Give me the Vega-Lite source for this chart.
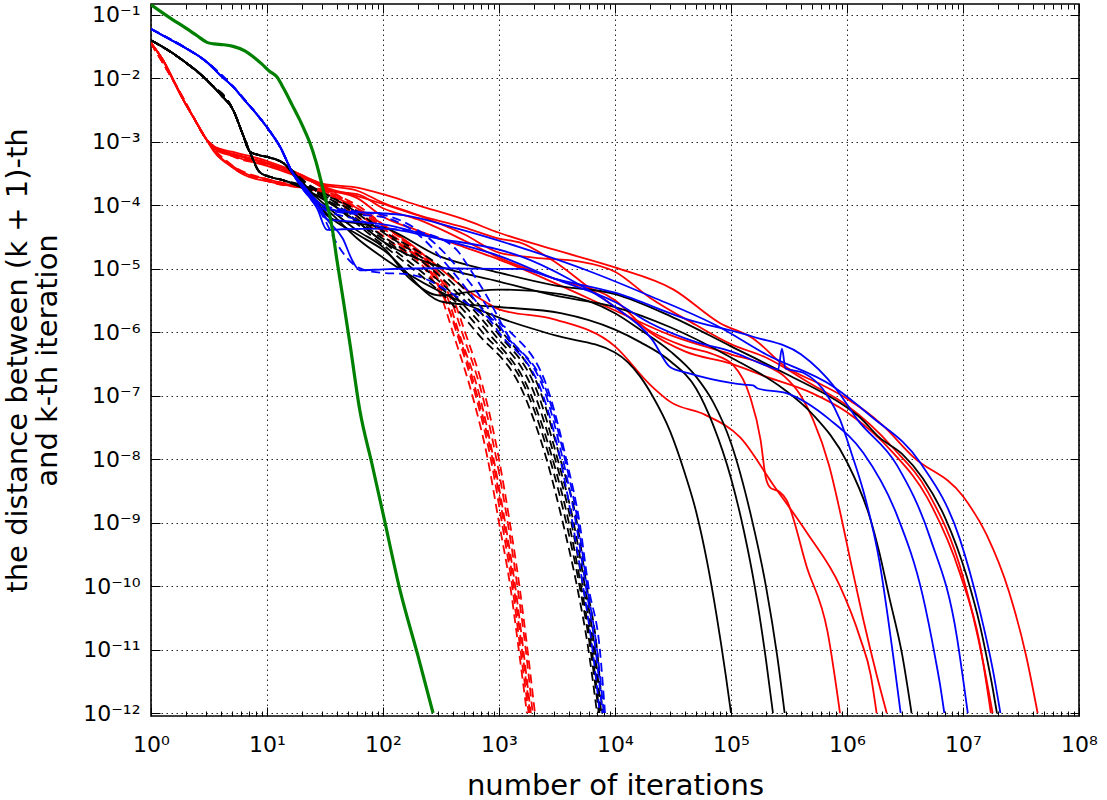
{
  "$schema": "https://vega.github.io/schema/vega-lite/v6.json",
  "width": 928,
  "height": 712,
  "autosize": {"type": "none"},
  "padding": {"left": 151, "top": 4, "right": 28, "bottom": 84},
  "background": "#ffffff",
  "config": {
    "view": {"stroke": "#000000", "strokeWidth": 1.6},
    "font": "DejaVu Sans",
    "axis": {"labelFont": "DejaVu Sans", "titleFont": "DejaVu Sans", "labelColor": "#000000", "titleColor": "#000000", "titleFontWeight": "normal", "tickColor": "#000000", "domain": false}
  },
  "datasets": {
    "green": [
      {"run":"g","x":1,"y":0.145},{"run":"g","x":1.5,"y":0.087},{"run":"g","x":2,"y":0.062},{"run":"g","x":2.5,"y":0.047},{"run":"g","x":3.04,"y":0.037},{"run":"g","x":3.5,"y":0.035},{"run":"g","x":4.2,"y":0.034},{"run":"g","x":5.1,"y":0.032},{"run":"g","x":6.5,"y":0.027},{"run":"g","x":7.6,"y":0.022},{"run":"g","x":9,"y":0.017},{"run":"g","x":10.5,"y":0.013},{"run":"g","x":12.2,"y":0.0105},{"run":"g","x":14,"y":0.0068},{"run":"g","x":16.5,"y":0.0038},{"run":"g","x":19.2,"y":0.0022},{"run":"g","x":21.5,"y":0.0014},{"run":"g","x":23.5,"y":0.00095},{"run":"g","x":26.5,"y":0.00048},{"run":"g","x":29.6,"y":0.00022},{"run":"g","x":32.5,"y":0.00011},{"run":"g","x":35,"y":6.6e-5},{"run":"g","x":37,"y":3.7e-5},{"run":"g","x":40,"y":1.4e-5},{"run":"g","x":45,"y":3.6e-6},{"run":"g","x":52,"y":6.4e-7},{"run":"g","x":63,"y":6e-8},{"run":"g","x":80,"y":8.7e-9},{"run":"g","x":100,"y":1.4e-9},{"run":"g","x":140,"y":8.7e-11},{"run":"g","x":200,"y":8e-12},{"run":"g","x":270,"y":1e-12}
    ],
    "redSolid": [
      {"run":"r1","x":1,"y":0.036},{"run":"r1","x":1.3,"y":0.018},{"run":"r1","x":1.6,"y":0.0085},{"run":"r1","x":1.9,"y":0.0046},{"run":"r1","x":2.4,"y":0.0022},{"run":"r1","x":3,"y":0.0011},{"run":"r1","x":3.5,"y":0.0008},{"run":"r1","x":5,"y":0.00063},{"run":"r1","x":7,"y":0.00054},{"run":"r1","x":10,"y":0.00045},{"run":"r1","x":14,"y":0.00036},{"run":"r1","x":20,"y":0.00028},
      {"run":"r1","x":30,"y":0.0002},{"run":"r1","x":60,"y":0.00014},{"run":"r1","x":100,"y":0.000105},{"run":"r1","x":200,"y":0.00007},{"run":"r1","x":500,"y":0.000045},{"run":"r1","x":1000,"y":0.00003},{"run":"r1","x":1500,"y":0.000026},{"run":"r1","x":3000,"y":0.000013},{"run":"r1","x":6000,"y":0.000005},{"run":"r1","x":11000,"y":0.0000022},{"run":"r1","x":21000,"y":0.000001},{"run":"r1","x":40000,"y":6e-7},{"run":"r1","x":70000,"y":4.5e-7},{"run":"r1","x":105000,"y":3e-7},{"run":"r1","x":145000,"y":1e-7},{"run":"r1","x":180000,"y":2e-8},{"run":"r1","x":200000,"y":5e-9},{"run":"r1","x":220000,"y":3.5e-9},{"run":"r1","x":260000,"y":3.1e-9},{"run":"r1","x":300000,"y":2.3e-9},{"run":"r1","x":450000,"y":2e-10},{"run":"r1","x":680000,"y":1.9e-11},{"run":"r1","x":870000,"y":1e-12},
      {"run":"r2","x":1,"y":0.036},{"run":"r2","x":1.3,"y":0.018},{"run":"r2","x":1.6,"y":0.0085},{"run":"r2","x":1.9,"y":0.0046},{"run":"r2","x":2.4,"y":0.0022},{"run":"r2","x":3,"y":0.0011},{"run":"r2","x":3.5,"y":0.0007},{"run":"r2","x":5,"y":0.0004},{"run":"r2","x":7,"y":0.00028},{"run":"r2","x":10,"y":0.00024},{"run":"r2","x":14,"y":0.00021},{"run":"r2","x":20,"y":0.00019},
      {"run":"r2","x":30,"y":0.00016},{"run":"r2","x":60,"y":0.00009},{"run":"r2","x":100,"y":0.00005},{"run":"r2","x":170,"y":0.000025},{"run":"r2","x":270,"y":0.0000126},{"run":"r2","x":500,"y":0.000005},{"run":"r2","x":790,"y":0.0000029},{"run":"r2","x":1000,"y":0.0000023},{"run":"r2","x":3000,"y":0.0000016},{"run":"r2","x":10000,"y":6e-7},{"run":"r2","x":20000,"y":1.5e-7},{"run":"r2","x":30000,"y":8e-8},{"run":"r2","x":60000,"y":5e-8},{"run":"r2","x":120000,"y":2.2e-8},{"run":"r2","x":230000,"y":4e-9},{"run":"r2","x":450000,"y":7e-10},{"run":"r2","x":870000,"y":1e-10},{"run":"r2","x":1300000,"y":1.5e-11},{"run":"r2","x":1600000,"y":4e-12},{"run":"r2","x":1800000,"y":1e-12},
      {"run":"r3","x":1,"y":0.036},{"run":"r3","x":1.3,"y":0.018},{"run":"r3","x":1.6,"y":0.0085},{"run":"r3","x":1.9,"y":0.0046},{"run":"r3","x":2.4,"y":0.0022},{"run":"r3","x":3,"y":0.0011},{"run":"r3","x":3.5,"y":0.00082},{"run":"r3","x":5,"y":0.00066},{"run":"r3","x":7,"y":0.00056},{"run":"r3","x":10,"y":0.00047},{"run":"r3","x":14,"y":0.00038},{"run":"r3","x":20,"y":0.0003},
      {"run":"r3","x":30,"y":0.00019},{"run":"r3","x":60,"y":0.00013},{"run":"r3","x":100,"y":0.000066},{"run":"r3","x":200,"y":0.00004},{"run":"r3","x":500,"y":0.000022},{"run":"r3","x":1000,"y":0.000014},{"run":"r3","x":3000,"y":0.000006},{"run":"r3","x":10000,"y":0.0000022},{"run":"r3","x":30000,"y":9e-7},{"run":"r3","x":100000,"y":4.5e-7},{"run":"r3","x":200000,"y":3e-7},{"run":"r3","x":290000,"y":2e-7},{"run":"r3","x":400000,"y":1e-7},{"run":"r3","x":510000,"y":4.2e-8},{"run":"r3","x":700000,"y":8e-9},{"run":"r3","x":870000,"y":1.5e-9},{"run":"r3","x":1100000,"y":2e-10},{"run":"r3","x":1380000,"y":3e-11},{"run":"r3","x":1800000,"y":4e-12},{"run":"r3","x":2200000,"y":1e-12},
      {"run":"r4","x":1,"y":0.036},{"run":"r4","x":1.3,"y":0.018},{"run":"r4","x":1.6,"y":0.0085},{"run":"r4","x":1.9,"y":0.0046},{"run":"r4","x":2.4,"y":0.0022},{"run":"r4","x":3,"y":0.0011},{"run":"r4","x":3.5,"y":0.00072},{"run":"r4","x":5,"y":0.00042},{"run":"r4","x":7,"y":0.0003},{"run":"r4","x":10,"y":0.00026},{"run":"r4","x":14,"y":0.00022},{"run":"r4","x":20,"y":0.0002},
      {"run":"r4","x":30,"y":0.00017},{"run":"r4","x":60,"y":0.00015},{"run":"r4","x":100,"y":0.00009},{"run":"r4","x":200,"y":0.00006},{"run":"r4","x":500,"y":0.000028},{"run":"r4","x":1000,"y":0.000015},{"run":"r4","x":3000,"y":0.000007},{"run":"r4","x":10000,"y":0.0000032},{"run":"r4","x":20000,"y":0.000001},{"run":"r4","x":40000,"y":5e-7},{"run":"r4","x":100000,"y":3.2e-7},{"run":"r4","x":200000,"y":2e-7},{"run":"r4","x":500000,"y":1.1e-7},{"run":"r4","x":1000000,"y":5.5e-8},{"run":"r4","x":2500000,"y":1.26e-8},{"run":"r4","x":4900000,"y":2.5e-9},{"run":"r4","x":9400000,"y":1.6e-10},{"run":"r4","x":14000000,"y":1.2e-11},{"run":"r4","x":17400000,"y":1e-12},
      {"run":"r5","x":1,"y":0.036},{"run":"r5","x":1.3,"y":0.018},{"run":"r5","x":1.6,"y":0.0085},{"run":"r5","x":1.9,"y":0.0046},{"run":"r5","x":2.4,"y":0.0022},{"run":"r5","x":3,"y":0.0011},{"run":"r5","x":3.5,"y":0.00078},{"run":"r5","x":5,"y":0.0006},{"run":"r5","x":7,"y":0.0005},{"run":"r5","x":10,"y":0.00042},{"run":"r5","x":14,"y":0.00034},{"run":"r5","x":20,"y":0.00027},
      {"run":"r5","x":30,"y":0.00021},{"run":"r5","x":60,"y":0.00017},{"run":"r5","x":100,"y":0.00011},{"run":"r5","x":200,"y":0.00007},{"run":"r5","x":500,"y":0.000035},{"run":"r5","x":1000,"y":0.000018},{"run":"r5","x":2000,"y":0.000015},{"run":"r5","x":5000,"y":0.000013},{"run":"r5","x":10000,"y":0.000009},{"run":"r5","x":20000,"y":0.0000035},{"run":"r5","x":50000,"y":0.0000013},{"run":"r5","x":100000,"y":6.5e-7},{"run":"r5","x":200000,"y":4e-7},{"run":"r5","x":500000,"y":1.5e-7},{"run":"r5","x":1000000,"y":7e-8},{"run":"r5","x":2500000,"y":1.5e-8},{"run":"r5","x":5000000,"y":3e-9},{"run":"r5","x":10000000,"y":1.4e-10},{"run":"r5","x":15000000,"y":6e-12},{"run":"r5","x":18000000,"y":1e-12},
      {"run":"r6","x":1,"y":0.036},{"run":"r6","x":1.3,"y":0.018},{"run":"r6","x":1.6,"y":0.0085},{"run":"r6","x":1.9,"y":0.0046},{"run":"r6","x":2.4,"y":0.0022},{"run":"r6","x":3,"y":0.0011},{"run":"r6","x":3.5,"y":0.00085},{"run":"r6","x":5,"y":0.0007},{"run":"r6","x":7,"y":0.0006},{"run":"r6","x":10,"y":0.0005},{"run":"r6","x":14,"y":0.0004},{"run":"r6","x":20,"y":0.0003},
      {"run":"r6","x":30,"y":0.00022},{"run":"r6","x":60,"y":0.00019},{"run":"r6","x":100,"y":0.00015},{"run":"r6","x":200,"y":0.0001},{"run":"r6","x":500,"y":0.00006},{"run":"r6","x":1000,"y":0.000037},{"run":"r6","x":3000,"y":0.00002},{"run":"r6","x":10000,"y":0.0000105},{"run":"r6","x":32000,"y":0.0000047},{"run":"r6","x":80000,"y":0.0000014},{"run":"r6","x":155000,"y":8e-7},{"run":"r6","x":300000,"y":2.8e-7},{"run":"r6","x":600000,"y":1.5e-7},{"run":"r6","x":1000000,"y":9e-8},{"run":"r6","x":2000000,"y":3.5e-8},{"run":"r6","x":3700000,"y":1.1e-8},{"run":"r6","x":10000000,"y":2.6e-9},{"run":"r6","x":16000000,"y":6.4e-10},{"run":"r6","x":25000000,"y":8e-11},{"run":"r6","x":35000000,"y":8e-12},{"run":"r6","x":44000000,"y":1e-12}
    ],
    "redDash": [
      {"run":"rd1","x":1,"y":0.036},{"run":"rd1","x":1.6,"y":0.0085},{"run":"rd1","x":2.4,"y":0.0022},{"run":"rd1","x":3,"y":0.0011},{"run":"rd1","x":5,"y":0.00062},{"run":"rd1","x":10,"y":0.00044},{"run":"rd1","x":20,"y":0.00028},{"run":"rd1","x":30,"y":0.00019},{"run":"rd1","x":45,"y":0.0001},{"run":"rd1","x":80,"y":0.000045},{"run":"rd1","x":130,"y":0.000023},{"run":"rd1","x":230,"y":0.00001},{"run":"rd1","x":320,"y":0.0000035},{"run":"rd1","x":400,"y":0.000001},{"run":"rd1","x":590,"y":1e-7},{"run":"rd1","x":800,"y":1e-8},{"run":"rd1","x":1000,"y":1e-9},{"run":"rd1","x":1250,"y":1e-10},{"run":"rd1","x":1480,"y":1e-11},{"run":"rd1","x":1740,"y":1e-12},
      {"run":"rd2","x":1,"y":0.036},{"run":"rd2","x":1.6,"y":0.0085},{"run":"rd2","x":2.4,"y":0.0022},{"run":"rd2","x":3,"y":0.0011},{"run":"rd2","x":5,"y":0.00041},{"run":"rd2","x":10,"y":0.00025},{"run":"rd2","x":20,"y":0.00019},{"run":"rd2","x":30,"y":0.00016},{"run":"rd2","x":50,"y":0.0001},{"run":"rd2","x":85,"y":0.00005},{"run":"rd2","x":140,"y":0.000025},{"run":"rd2","x":250,"y":0.00001},{"run":"rd2","x":340,"y":0.0000035},{"run":"rd2","x":430,"y":0.000001},{"run":"rd2","x":630,"y":1e-7},{"run":"rd2","x":850,"y":1e-8},{"run":"rd2","x":1060,"y":1e-9},{"run":"rd2","x":1300,"y":1e-10},{"run":"rd2","x":1530,"y":1e-11},{"run":"rd2","x":1800,"y":1e-12},
      {"run":"rd3","x":1,"y":0.036},{"run":"rd3","x":1.6,"y":0.0085},{"run":"rd3","x":2.4,"y":0.0022},{"run":"rd3","x":3,"y":0.0011},{"run":"rd3","x":5,"y":0.00064},{"run":"rd3","x":10,"y":0.00046},{"run":"rd3","x":20,"y":0.00028},{"run":"rd3","x":30,"y":0.0002},{"run":"rd3","x":55,"y":0.0001},{"run":"rd3","x":90,"y":0.00005},{"run":"rd3","x":150,"y":0.000025},{"run":"rd3","x":260,"y":0.00001},{"run":"rd3","x":360,"y":0.0000035},{"run":"rd3","x":450,"y":0.000001},{"run":"rd3","x":680,"y":1e-7},{"run":"rd3","x":900,"y":1e-8},{"run":"rd3","x":1130,"y":1e-9},{"run":"rd3","x":1380,"y":1e-10},{"run":"rd3","x":1620,"y":1e-11},{"run":"rd3","x":1880,"y":1e-12},
      {"run":"rd4","x":1,"y":0.036},{"run":"rd4","x":1.6,"y":0.0085},{"run":"rd4","x":2.4,"y":0.0022},{"run":"rd4","x":3,"y":0.0011},{"run":"rd4","x":5,"y":0.00043},{"run":"rd4","x":10,"y":0.00026},{"run":"rd4","x":20,"y":0.0002},{"run":"rd4","x":30,"y":0.00017},{"run":"rd4","x":60,"y":0.0001},{"run":"rd4","x":100,"y":0.00005},{"run":"rd4","x":160,"y":0.000025},{"run":"rd4","x":270,"y":0.00001},{"run":"rd4","x":380,"y":0.0000035},{"run":"rd4","x":480,"y":0.000001},{"run":"rd4","x":720,"y":1e-7},{"run":"rd4","x":950,"y":1e-8},{"run":"rd4","x":1190,"y":1e-9},{"run":"rd4","x":1440,"y":1e-10},{"run":"rd4","x":1700,"y":1e-11},{"run":"rd4","x":1950,"y":1e-12},
      {"run":"rd5","x":1,"y":0.036},{"run":"rd5","x":1.6,"y":0.0085},{"run":"rd5","x":2.4,"y":0.0022},{"run":"rd5","x":3,"y":0.0011},{"run":"rd5","x":5,"y":0.0006},{"run":"rd5","x":10,"y":0.00043},{"run":"rd5","x":20,"y":0.00029},{"run":"rd5","x":30,"y":0.00021},{"run":"rd5","x":52,"y":0.0001},{"run":"rd5","x":95,"y":0.00005},{"run":"rd5","x":165,"y":0.000025},{"run":"rd5","x":280,"y":0.00001},{"run":"rd5","x":400,"y":0.0000035},{"run":"rd5","x":510,"y":0.000001},{"run":"rd5","x":760,"y":1e-7},{"run":"rd5","x":1000,"y":1e-8},{"run":"rd5","x":1240,"y":1e-9},{"run":"rd5","x":1500,"y":1e-10},{"run":"rd5","x":1760,"y":1e-11},{"run":"rd5","x":2040,"y":1e-12},
      {"run":"rd6","x":1,"y":0.036},{"run":"rd6","x":1.6,"y":0.0085},{"run":"rd6","x":2.4,"y":0.0022},{"run":"rd6","x":3,"y":0.0011},{"run":"rd6","x":5,"y":0.0004},{"run":"rd6","x":10,"y":0.00024},{"run":"rd6","x":20,"y":0.00019},{"run":"rd6","x":30,"y":0.00018},{"run":"rd6","x":48,"y":0.0001},{"run":"rd6","x":82,"y":0.00005},{"run":"rd6","x":135,"y":0.000025},{"run":"rd6","x":245,"y":0.00001},{"run":"rd6","x":335,"y":0.0000035},{"run":"rd6","x":440,"y":0.000001},{"run":"rd6","x":650,"y":1e-7},{"run":"rd6","x":880,"y":1e-8},{"run":"rd6","x":1100,"y":1e-9},{"run":"rd6","x":1340,"y":1e-10},{"run":"rd6","x":1580,"y":1e-11},{"run":"rd6","x":1850,"y":1e-12}
    ],
    "blackSolid": [
      {"run":"b1","x":1,"y":0.04},{"run":"b1","x":1.4,"y":0.028},{"run":"b1","x":1.9,"y":0.019},{"run":"b1","x":2.5,"y":0.013},{"run":"b1","x":3.2,"y":0.0085},{"run":"b1","x":4,"y":0.0055},{"run":"b1","x":5.1,"y":0.0032},{"run":"b1","x":6.2,"y":0.0013},{"run":"b1","x":7.1,"y":0.0007},{"run":"b1","x":8.5,"y":0.00062},{"run":"b1","x":10,"y":0.00058},{"run":"b1","x":13.7,"y":0.00047},
      {"run":"b1","x":20,"y":0.0002},{"run":"b1","x":37,"y":0.00007},{"run":"b1","x":60,"y":0.00003},{"run":"b1","x":100,"y":0.000015},{"run":"b1","x":300,"y":0.0000045},{"run":"b1","x":1000,"y":0.0000017},{"run":"b1","x":3000,"y":9e-7},{"run":"b1","x":10000,"y":4.8e-7},{"run":"b1","x":16500,"y":2e-7},{"run":"b1","x":21000,"y":1e-7},{"run":"b1","x":30000,"y":2.7e-8},{"run":"b1","x":40000,"y":6e-9},{"run":"b1","x":50000,"y":1.5e-9},{"run":"b1","x":62000,"y":2.5e-10},{"run":"b1","x":75000,"y":3.5e-11},{"run":"b1","x":90000,"y":4e-12},{"run":"b1","x":100000,"y":1e-12},
      {"run":"b2","x":1,"y":0.04},{"run":"b2","x":1.4,"y":0.028},{"run":"b2","x":1.9,"y":0.019},{"run":"b2","x":2.5,"y":0.013},{"run":"b2","x":3.2,"y":0.0085},{"run":"b2","x":4,"y":0.0055},{"run":"b2","x":5.1,"y":0.0032},{"run":"b2","x":6.2,"y":0.0013},{"run":"b2","x":7.1,"y":0.0007},{"run":"b2","x":8.7,"y":0.00033},{"run":"b2","x":10,"y":0.00029},{"run":"b2","x":13.7,"y":0.00025},
      {"run":"b2","x":20,"y":0.00019},{"run":"b2","x":37,"y":0.00006},{"run":"b2","x":60,"y":0.000035},{"run":"b2","x":100,"y":0.00002},{"run":"b2","x":330,"y":0.000003},{"run":"b2","x":1000,"y":0.0000025},{"run":"b2","x":3400,"y":0.000002},{"run":"b2","x":10000,"y":0.0000011},{"run":"b2","x":16500,"y":7e-7},{"run":"b2","x":30000,"y":3.5e-7},{"run":"b2","x":50000,"y":1.3e-7},{"run":"b2","x":70000,"y":3.5e-8},{"run":"b2","x":100000,"y":5e-9},{"run":"b2","x":130000,"y":7e-10},{"run":"b2","x":160000,"y":1e-10},{"run":"b2","x":200000,"y":7e-12},{"run":"b2","x":230000,"y":1e-12},
      {"run":"b3","x":1,"y":0.04},{"run":"b3","x":1.4,"y":0.028},{"run":"b3","x":1.9,"y":0.019},{"run":"b3","x":2.5,"y":0.013},{"run":"b3","x":3.2,"y":0.0085},{"run":"b3","x":4,"y":0.0055},{"run":"b3","x":5.1,"y":0.0032},{"run":"b3","x":6.2,"y":0.0013},{"run":"b3","x":7.1,"y":0.0007},{"run":"b3","x":8.5,"y":0.00062},{"run":"b3","x":10,"y":0.00058},{"run":"b3","x":13.7,"y":0.00047},
      {"run":"b3","x":20,"y":0.00022},{"run":"b3","x":37,"y":0.00008},{"run":"b3","x":60,"y":0.00004},{"run":"b3","x":100,"y":0.000022},{"run":"b3","x":170,"y":0.000007},{"run":"b3","x":310,"y":0.0000038},{"run":"b3","x":600,"y":0.0000044},{"run":"b3","x":1000,"y":0.0000047},{"run":"b3","x":3400,"y":0.000004},{"run":"b3","x":10000,"y":0.000002},{"run":"b3","x":16500,"y":0.0000011},{"run":"b3","x":30000,"y":5e-7},{"run":"b3","x":50000,"y":2e-7},{"run":"b3","x":70000,"y":8e-8},{"run":"b3","x":100000,"y":1.8e-8},{"run":"b3","x":150000,"y":1.2e-9},{"run":"b3","x":200000,"y":1e-10},{"run":"b3","x":250000,"y":8e-12},{"run":"b3","x":290000,"y":1e-12},
      {"run":"b4","x":1,"y":0.04},{"run":"b4","x":1.4,"y":0.028},{"run":"b4","x":1.9,"y":0.019},{"run":"b4","x":2.5,"y":0.013},{"run":"b4","x":3.2,"y":0.0085},{"run":"b4","x":4,"y":0.0055},{"run":"b4","x":5.1,"y":0.0032},{"run":"b4","x":6.2,"y":0.0013},{"run":"b4","x":7.1,"y":0.0007},{"run":"b4","x":8.7,"y":0.00033},{"run":"b4","x":10,"y":0.00029},{"run":"b4","x":13.7,"y":0.00025},
      {"run":"b4","x":20,"y":0.00019},{"run":"b4","x":37,"y":0.0001},{"run":"b4","x":60,"y":0.000055},{"run":"b4","x":100,"y":0.000027},{"run":"b4","x":300,"y":0.000011},{"run":"b4","x":1000,"y":0.0000063},{"run":"b4","x":3000,"y":0.0000038},{"run":"b4","x":10000,"y":0.0000025},{"run":"b4","x":30000,"y":0.0000012},{"run":"b4","x":100000,"y":4e-7},{"run":"b4","x":280000,"y":1.3e-7},{"run":"b4","x":500000,"y":5.2e-8},{"run":"b4","x":1000000,"y":9e-9},{"run":"b4","x":1600000,"y":1.1e-9},{"run":"b4","x":1900000,"y":3.4e-10},{"run":"b4","x":2300000,"y":7e-11},{"run":"b4","x":3000000,"y":8e-12},{"run":"b4","x":3600000,"y":1e-12},
      {"run":"b5","x":1,"y":0.04},{"run":"b5","x":1.4,"y":0.028},{"run":"b5","x":1.9,"y":0.019},{"run":"b5","x":2.5,"y":0.013},{"run":"b5","x":3.2,"y":0.0085},{"run":"b5","x":4,"y":0.0055},{"run":"b5","x":5.1,"y":0.0032},{"run":"b5","x":6.2,"y":0.0013},{"run":"b5","x":7.1,"y":0.0007},{"run":"b5","x":8.5,"y":0.00062},{"run":"b5","x":10,"y":0.00058},{"run":"b5","x":13.7,"y":0.00047},
      {"run":"b5","x":20,"y":0.00024},{"run":"b5","x":37,"y":0.00006},{"run":"b5","x":60,"y":0.000052},{"run":"b5","x":100,"y":0.000045},{"run":"b5","x":300,"y":0.000016},{"run":"b5","x":1000,"y":0.0000087},{"run":"b5","x":3000,"y":0.0000055},{"run":"b5","x":10000,"y":0.000004},{"run":"b5","x":30000,"y":0.0000018},{"run":"b5","x":100000,"y":6e-7},{"run":"b5","x":300000,"y":2.2e-7},{"run":"b5","x":1000000,"y":6.5e-8},{"run":"b5","x":1300000,"y":4.5e-8},{"run":"b5","x":1900000,"y":2.2e-8},{"run":"b5","x":3000000,"y":1.2e-8},{"run":"b5","x":4500000,"y":5e-9},{"run":"b5","x":7000000,"y":1.2e-9},{"run":"b5","x":10800000,"y":1.4e-10},{"run":"b5","x":14000000,"y":2.4e-11},{"run":"b5","x":16000000,"y":7.6e-12},{"run":"b5","x":18000000,"y":2.5e-12},{"run":"b5","x":19600000,"y":1e-12}
    ],
    "blackDash": [
      {"run":"bd1","x":1,"y":0.04},{"run":"bd1","x":1.9,"y":0.019},{"run":"bd1","x":3.2,"y":0.0085},{"run":"bd1","x":5.1,"y":0.0032},{"run":"bd1","x":6.2,"y":0.0013},{"run":"bd1","x":7.1,"y":0.0007},{"run":"bd1","x":10,"y":0.00058},{"run":"bd1","x":13.7,"y":0.00047},{"run":"bd1","x":20,"y":0.00026},{"run":"bd1","x":30,"y":0.00014},{"run":"bd1","x":38,"y":0.0001},{"run":"bd1","x":70,"y":0.00004},{"run":"bd1","x":180,"y":0.00001},{"run":"bd1","x":350,"y":0.0000035},{"run":"bd1","x":640,"y":0.000001},{"run":"bd1","x":1660,"y":1e-7},{"run":"bd1","x":2570,"y":1e-8},{"run":"bd1","x":3550,"y":1e-9},{"run":"bd1","x":4700,"y":1e-10},{"run":"bd1","x":5900,"y":1e-11},{"run":"bd1","x":7000,"y":1e-12},
      {"run":"bd2","x":1,"y":0.04},{"run":"bd2","x":1.9,"y":0.019},{"run":"bd2","x":3.2,"y":0.0085},{"run":"bd2","x":5.1,"y":0.0032},{"run":"bd2","x":6.2,"y":0.0013},{"run":"bd2","x":7.1,"y":0.0007},{"run":"bd2","x":8.7,"y":0.00033},{"run":"bd2","x":13.7,"y":0.00025},{"run":"bd2","x":20,"y":0.00019},{"run":"bd2","x":30,"y":0.00013},{"run":"bd2","x":40,"y":0.0001},{"run":"bd2","x":75,"y":0.00004},{"run":"bd2","x":200,"y":0.00001},{"run":"bd2","x":390,"y":0.0000035},{"run":"bd2","x":720,"y":0.000001},{"run":"bd2","x":1800,"y":1e-7},{"run":"bd2","x":2750,"y":1e-8},{"run":"bd2","x":3800,"y":1e-9},{"run":"bd2","x":4950,"y":1e-10},{"run":"bd2","x":6150,"y":1e-11},{"run":"bd2","x":7250,"y":1e-12},
      {"run":"bd3","x":1,"y":0.04},{"run":"bd3","x":1.9,"y":0.019},{"run":"bd3","x":3.2,"y":0.0085},{"run":"bd3","x":5.1,"y":0.0032},{"run":"bd3","x":6.2,"y":0.0013},{"run":"bd3","x":7.1,"y":0.0007},{"run":"bd3","x":10,"y":0.00058},{"run":"bd3","x":13.7,"y":0.00047},{"run":"bd3","x":20,"y":0.00024},{"run":"bd3","x":30,"y":0.00015},{"run":"bd3","x":42,"y":0.0001},{"run":"bd3","x":80,"y":0.00004},{"run":"bd3","x":230,"y":0.00001},{"run":"bd3","x":430,"y":0.0000035},{"run":"bd3","x":800,"y":0.000001},{"run":"bd3","x":1900,"y":1e-7},{"run":"bd3","x":2900,"y":1e-8},{"run":"bd3","x":4000,"y":1e-9},{"run":"bd3","x":5100,"y":1e-10},{"run":"bd3","x":6300,"y":1e-11},{"run":"bd3","x":7350,"y":1e-12},
      {"run":"bd4","x":1,"y":0.04},{"run":"bd4","x":1.9,"y":0.019},{"run":"bd4","x":3.2,"y":0.0085},{"run":"bd4","x":5.1,"y":0.0032},{"run":"bd4","x":6.2,"y":0.0013},{"run":"bd4","x":7.1,"y":0.0007},{"run":"bd4","x":8.7,"y":0.00033},{"run":"bd4","x":13.7,"y":0.00025},{"run":"bd4","x":20,"y":0.0002},{"run":"bd4","x":30,"y":0.00014},{"run":"bd4","x":45,"y":0.0001},{"run":"bd4","x":85,"y":0.00004},{"run":"bd4","x":260,"y":0.00001},{"run":"bd4","x":480,"y":0.0000035},{"run":"bd4","x":880,"y":0.000001},{"run":"bd4","x":2050,"y":1e-7},{"run":"bd4","x":3050,"y":1e-8},{"run":"bd4","x":4200,"y":1e-9},{"run":"bd4","x":5300,"y":1e-10},{"run":"bd4","x":6500,"y":1e-11},{"run":"bd4","x":7450,"y":1e-12},
      {"run":"bd5","x":1,"y":0.04},{"run":"bd5","x":1.9,"y":0.019},{"run":"bd5","x":3.2,"y":0.0085},{"run":"bd5","x":5.1,"y":0.0032},{"run":"bd5","x":6.2,"y":0.0013},{"run":"bd5","x":7.1,"y":0.0007},{"run":"bd5","x":10,"y":0.00058},{"run":"bd5","x":13.7,"y":0.00047},{"run":"bd5","x":20,"y":0.00025},{"run":"bd5","x":30,"y":0.00016},{"run":"bd5","x":48,"y":0.0001},{"run":"bd5","x":95,"y":0.00004},{"run":"bd5","x":290,"y":0.00001},{"run":"bd5","x":530,"y":0.0000035},{"run":"bd5","x":960,"y":0.000001},{"run":"bd5","x":2200,"y":1e-7},{"run":"bd5","x":3200,"y":1e-8},{"run":"bd5","x":4400,"y":1e-9},{"run":"bd5","x":5500,"y":1e-10},{"run":"bd5","x":6700,"y":1e-11},{"run":"bd5","x":7600,"y":1e-12},
      {"run":"bd6","x":1,"y":0.04},{"run":"bd6","x":1.9,"y":0.019},{"run":"bd6","x":3.2,"y":0.0085},{"run":"bd6","x":5.1,"y":0.0032},{"run":"bd6","x":6.2,"y":0.0013},{"run":"bd6","x":7.1,"y":0.0007},{"run":"bd6","x":8.7,"y":0.00033},{"run":"bd6","x":13.7,"y":0.00025},{"run":"bd6","x":20,"y":0.00021},{"run":"bd6","x":30,"y":0.00015},{"run":"bd6","x":50,"y":0.0001},{"run":"bd6","x":100,"y":0.00004},{"run":"bd6","x":330,"y":0.00001},{"run":"bd6","x":590,"y":0.0000035},{"run":"bd6","x":1070,"y":0.000001},{"run":"bd6","x":2340,"y":1e-7},{"run":"bd6","x":3380,"y":1e-8},{"run":"bd6","x":4700,"y":1e-9},{"run":"bd6","x":5700,"y":1e-10},{"run":"bd6","x":7000,"y":1e-11},{"run":"bd6","x":7800,"y":1e-12}
    ],
    "blueSolid": [
      {"run":"u1","x":1,"y":0.06},{"run":"u1","x":1.5,"y":0.04},{"run":"u1","x":2,"y":0.03},{"run":"u1","x":3.04,"y":0.018},{"run":"u1","x":4,"y":0.011},{"run":"u1","x":5.1,"y":0.0074},{"run":"u1","x":6.3,"y":0.0047},{"run":"u1","x":7.6,"y":0.0032},{"run":"u1","x":10,"y":0.0017},{"run":"u1","x":13,"y":0.00083},{"run":"u1","x":16.7,"y":0.00032},
      {"run":"u1","x":20,"y":0.0002},{"run":"u1","x":27,"y":0.0001},{"run":"u1","x":33,"y":0.00006},{"run":"u1","x":60,"y":0.000055},{"run":"u1","x":100,"y":0.00005},{"run":"u1","x":300,"y":0.00003},{"run":"u1","x":1000,"y":0.000016},{"run":"u1","x":3000,"y":0.000007},{"run":"u1","x":10000,"y":0.000003},{"run":"u1","x":20000,"y":0.0000014},{"run":"u1","x":50000,"y":7e-7},{"run":"u1","x":100000,"y":5e-7},{"run":"u1","x":200000,"y":3e-7},{"run":"u1","x":255000,"y":2.6e-7},{"run":"u1","x":275000,"y":5.5e-7},{"run":"u1","x":295000,"y":2.7e-7},{"run":"u1","x":420000,"y":2.3e-7},{"run":"u1","x":680000,"y":1e-7},{"run":"u1","x":870000,"y":4.2e-8},{"run":"u1","x":1100000,"y":1.2e-8},{"run":"u1","x":1380000,"y":3.2e-9},{"run":"u1","x":1900000,"y":2.5e-10},{"run":"u1","x":2500000,"y":8e-12},{"run":"u1","x":2900000,"y":1e-12},
      {"run":"u2","x":1,"y":0.06},{"run":"u2","x":1.5,"y":0.04},{"run":"u2","x":2,"y":0.03},{"run":"u2","x":3.04,"y":0.018},{"run":"u2","x":4,"y":0.011},{"run":"u2","x":5.1,"y":0.0074},{"run":"u2","x":6.3,"y":0.0047},{"run":"u2","x":7.6,"y":0.0032},{"run":"u2","x":10,"y":0.0017},{"run":"u2","x":13,"y":0.00083},{"run":"u2","x":16.7,"y":0.00032},
      {"run":"u2","x":20,"y":0.00019},{"run":"u2","x":27,"y":0.00009},{"run":"u2","x":33,"y":0.000041},{"run":"u2","x":45,"y":0.000042},{"run":"u2","x":100,"y":0.000043},{"run":"u2","x":300,"y":0.00003},{"run":"u2","x":1000,"y":0.00002},{"run":"u2","x":1500,"y":0.000016},{"run":"u2","x":4100,"y":0.0000068},{"run":"u2","x":10000,"y":0.0000025},{"run":"u2","x":21000,"y":7.6e-7},{"run":"u2","x":30000,"y":2.8e-7},{"run":"u2","x":42000,"y":2.3e-7},{"run":"u2","x":100000,"y":1.6e-7},{"run":"u2","x":130000,"y":1.5e-7},{"run":"u2","x":155000,"y":1.45e-7},{"run":"u2","x":170000,"y":1.3e-7},{"run":"u2","x":300000,"y":1.1e-7},{"run":"u2","x":710000,"y":4.2e-8},{"run":"u2","x":1380000,"y":1.26e-8},{"run":"u2","x":2700000,"y":1.3e-9},{"run":"u2","x":4500000,"y":7e-11},{"run":"u2","x":5800000,"y":7e-12},{"run":"u2","x":6300000,"y":3e-12},{"run":"u2","x":6900000,"y":1e-12},
      {"run":"u3","x":1,"y":0.06},{"run":"u3","x":1.5,"y":0.04},{"run":"u3","x":2,"y":0.03},{"run":"u3","x":3.04,"y":0.018},{"run":"u3","x":4,"y":0.011},{"run":"u3","x":5.1,"y":0.0074},{"run":"u3","x":6.3,"y":0.0047},{"run":"u3","x":7.6,"y":0.0032},{"run":"u3","x":10,"y":0.0017},{"run":"u3","x":13,"y":0.00083},{"run":"u3","x":16.7,"y":0.00032},
      {"run":"u3","x":20,"y":0.00021},{"run":"u3","x":27,"y":0.00011},{"run":"u3","x":33,"y":0.00006},{"run":"u3","x":45,"y":0.00003},{"run":"u3","x":55,"y":0.000013},{"run":"u3","x":63,"y":0.0000095},{"run":"u3","x":100,"y":0.0000098},{"run":"u3","x":300,"y":0.0000102},{"run":"u3","x":1000,"y":0.00001},{"run":"u3","x":1500,"y":0.00001},{"run":"u3","x":3000,"y":0.000007},{"run":"u3","x":10000,"y":0.0000042},{"run":"u3","x":42000,"y":0.0000016},{"run":"u3","x":155000,"y":8.5e-7},{"run":"u3","x":400000,"y":4.5e-7},{"run":"u3","x":800000,"y":1.3e-7},{"run":"u3","x":1230000,"y":4.2e-8},{"run":"u3","x":2700000,"y":8e-9},{"run":"u3","x":5200000,"y":5.8e-10},{"run":"u3","x":8900000,"y":1.5e-11},{"run":"u3","x":10000000,"y":3.5e-12},{"run":"u3","x":11000000,"y":1e-12},
      {"run":"u4","x":1,"y":0.06},{"run":"u4","x":1.5,"y":0.04},{"run":"u4","x":2,"y":0.03},{"run":"u4","x":3.04,"y":0.018},{"run":"u4","x":4,"y":0.011},{"run":"u4","x":5.1,"y":0.0074},{"run":"u4","x":6.3,"y":0.0047},{"run":"u4","x":7.6,"y":0.0032},{"run":"u4","x":10,"y":0.0017},{"run":"u4","x":13,"y":0.00083},{"run":"u4","x":16.7,"y":0.00032},
      {"run":"u4","x":20,"y":0.00022},{"run":"u4","x":30,"y":0.0001},{"run":"u4","x":45,"y":0.00008},{"run":"u4","x":100,"y":0.000075},{"run":"u4","x":150,"y":0.00007},{"run":"u4","x":400,"y":0.000045},{"run":"u4","x":1500,"y":0.000022},{"run":"u4","x":5700,"y":0.0000095},{"run":"u4","x":21000,"y":0.0000036},{"run":"u4","x":80000,"y":0.0000012},{"run":"u4","x":200000,"y":4.5e-7},{"run":"u4","x":760000,"y":1.4e-7},{"run":"u4","x":1600000,"y":4.8e-8},{"run":"u4","x":4300000,"y":8.7e-9},{"run":"u4","x":9400000,"y":5.5e-10},{"run":"u4","x":14000000,"y":4e-11},{"run":"u4","x":18000000,"y":5e-12},{"run":"u4","x":21000000,"y":1e-12}
    ],
    "blueDash": [
      {"run":"ud1","x":1,"y":0.06},{"run":"ud1","x":2,"y":0.03},{"run":"ud1","x":3.04,"y":0.018},{"run":"ud1","x":5.1,"y":0.0074},{"run":"ud1","x":7.6,"y":0.0032},{"run":"ud1","x":10,"y":0.0017},{"run":"ud1","x":13,"y":0.00083},{"run":"ud1","x":16.7,"y":0.00032},{"run":"ud1","x":20,"y":0.0002},{"run":"ud1","x":23.5,"y":0.000135},{"run":"ud1","x":30,"y":0.00009},{"run":"ud1","x":60,"y":0.000072},{"run":"ud1","x":100,"y":0.000065},{"run":"ud1","x":200,"y":0.000035},{"run":"ud1","x":380,"y":0.00001},{"run":"ud1","x":600,"y":0.0000035},{"run":"ud1","x":1000,"y":0.000001},{"run":"ud1","x":2400,"y":1e-7},{"run":"ud1","x":3380,"y":1e-8},{"run":"ud1","x":4300,"y":1e-9},{"run":"ud1","x":5300,"y":1e-10},{"run":"ud1","x":6400,"y":1e-11},{"run":"ud1","x":7400,"y":1e-12},
      {"run":"ud2","x":1,"y":0.06},{"run":"ud2","x":2,"y":0.03},{"run":"ud2","x":3.04,"y":0.018},{"run":"ud2","x":5.1,"y":0.0074},{"run":"ud2","x":7.6,"y":0.0032},{"run":"ud2","x":10,"y":0.0017},{"run":"ud2","x":13,"y":0.00083},{"run":"ud2","x":16.7,"y":0.00032},{"run":"ud2","x":20,"y":0.00021},{"run":"ud2","x":23.5,"y":0.00014},{"run":"ud2","x":30,"y":0.0001},{"run":"ud2","x":60,"y":0.00008},{"run":"ud2","x":120,"y":0.000065},{"run":"ud2","x":250,"y":0.00003},{"run":"ud2","x":450,"y":0.00001},{"run":"ud2","x":700,"y":0.0000035},{"run":"ud2","x":1100,"y":0.000001},{"run":"ud2","x":2550,"y":1e-7},{"run":"ud2","x":3550,"y":1e-8},{"run":"ud2","x":4600,"y":1e-9},{"run":"ud2","x":5600,"y":1e-10},{"run":"ud2","x":6800,"y":1e-11},{"run":"ud2","x":7800,"y":1e-12},
      {"run":"ud3","x":1,"y":0.06},{"run":"ud3","x":2,"y":0.03},{"run":"ud3","x":3.04,"y":0.018},{"run":"ud3","x":5.1,"y":0.0074},{"run":"ud3","x":7.6,"y":0.0032},{"run":"ud3","x":10,"y":0.0017},{"run":"ud3","x":13,"y":0.00083},{"run":"ud3","x":16.7,"y":0.00032},{"run":"ud3","x":20,"y":0.00019},{"run":"ud3","x":23.5,"y":0.00013},{"run":"ud3","x":30,"y":0.00007},{"run":"ud3","x":40,"y":0.000025},{"run":"ud3","x":55,"y":0.000012},{"run":"ud3","x":80,"y":0.000009},{"run":"ud3","x":180,"y":0.000008},{"run":"ud3","x":400,"y":0.000004},{"run":"ud3","x":700,"y":0.000002},{"run":"ud3","x":1260,"y":0.000001},{"run":"ud3","x":2750,"y":1e-7},{"run":"ud3","x":3800,"y":1e-8},{"run":"ud3","x":4950,"y":1e-9},{"run":"ud3","x":5900,"y":1e-10},{"run":"ud3","x":7400,"y":1e-11},{"run":"ud3","x":8200,"y":1e-12},
      {"run":"ud4","x":1,"y":0.06},{"run":"ud4","x":2,"y":0.03},{"run":"ud4","x":3.04,"y":0.018},{"run":"ud4","x":5.1,"y":0.0074},{"run":"ud4","x":7.6,"y":0.0032},{"run":"ud4","x":10,"y":0.0017},{"run":"ud4","x":13,"y":0.00083},{"run":"ud4","x":16.7,"y":0.00032},{"run":"ud4","x":20,"y":0.0002},{"run":"ud4","x":23.5,"y":0.000135},{"run":"ud4","x":30,"y":0.00009},{"run":"ud4","x":60,"y":0.00006},{"run":"ud4","x":100,"y":0.000045},{"run":"ud4","x":220,"y":0.000037},{"run":"ud4","x":430,"y":0.00002},{"run":"ud4","x":560,"y":0.00001},{"run":"ud4","x":800,"y":0.0000035},{"run":"ud4","x":1150,"y":0.000001},{"run":"ud4","x":2650,"y":1e-7},{"run":"ud4","x":3700,"y":1e-8},{"run":"ud4","x":4800,"y":1e-9},{"run":"ud4","x":5750,"y":1e-10},{"run":"ud4","x":7000,"y":1e-11},{"run":"ud4","x":8000,"y":1e-12}
    ]
  },
  "resolve": {"axis": {"x": "independent", "y": "independent"}},
  "layer": [
    {
      "encoding": {
        "x": {
          "field": "x", "type": "quantitative",
          "scale": {"type": "log", "domain": [1, 100000000], "nice": false},
          "axis": {
            "orient": "bottom",
            "values": [1, 10, 100, 1000, 10000, 100000, 1000000, 10000000, 100000000],
            "labelExpr": "'10' + ['⁰','¹','²','³','⁴','⁵','⁶','⁷','⁸'][round(log(datum.value) / LN10)]",
            "ticks": false, "grid": true, "gridColor": "#000000", "gridDash": [1.5, 3.5], "gridWidth": 1, "gridOpacity": 0.85,
            "labelFontSize": 22, "labelPadding": 18, "labelFlush": false, "labelOverlap": false, "labelBaseline": "top",
            "title": "number of iterations", "titleFontSize": 29, "titleY": 78, "titleBaseline": "alphabetic"
          }
        },
        "y": {
          "field": "y", "type": "quantitative",
          "scale": {"type": "log", "domain": [8.97e-13, 0.149], "nice": false},
          "axis": {
            "orient": "left",
            "values": [1e-12, 1e-11, 1e-10, 1e-9, 1e-8, 1e-7, 1e-6, 1e-5, 1e-4, 1e-3, 1e-2, 1e-1],
            "labelExpr": "'10⁻' + ['⁰','¹','²','³','⁴','⁵','⁶','⁷','⁸','⁹','¹⁰','¹¹','¹²'][round(-log(datum.value) / LN10)]",
            "ticks": false, "grid": true, "gridColor": "#000000", "gridDash": [1.5, 3.5], "gridWidth": 1, "gridOpacity": 0.85,
            "labelFontSize": 22, "labelPadding": 11, "labelBaseline": "middle", "labelOverlap": false,
            "title": ["the distance between (k + 1)-th", "and k-th iteration"],
            "titleFontSize": 29, "titleLineHeight": 30, "titleAngle": -90, "titleAlign": "center", "titleBaseline": "bottom",
            "titleX": -119
          }
        },
        "detail": {"field": "run", "type": "nominal"}
      },
      "layer": [
        {"data": {"name": "redSolid"}, "mark": {"type": "line", "color": "#ff0000", "strokeWidth": 1.8, "interpolate": "monotone", "clip": true}},
        {"data": {"name": "redDash"}, "mark": {"type": "line", "color": "#ff0000", "strokeWidth": 1.8, "strokeDash": [9, 5], "interpolate": "monotone", "clip": true}},
        {"data": {"name": "blackSolid"}, "mark": {"type": "line", "color": "#000000", "strokeWidth": 1.8, "interpolate": "monotone", "clip": true}},
        {"data": {"name": "blackDash"}, "mark": {"type": "line", "color": "#000000", "strokeWidth": 1.8, "strokeDash": [9, 5], "interpolate": "monotone", "clip": true}},
        {"data": {"name": "blueSolid"}, "mark": {"type": "line", "color": "#0000ff", "strokeWidth": 1.8, "interpolate": "monotone", "clip": true}},
        {"data": {"name": "blueDash"}, "mark": {"type": "line", "color": "#0000ff", "strokeWidth": 1.8, "strokeDash": [9, 5], "interpolate": "monotone", "clip": true}},
        {"data": {"name": "green"}, "mark": {"type": "line", "color": "#008000", "strokeWidth": 3.2, "interpolate": "monotone", "clip": true}}
      ]
    },
    {
      "data": {"name": "green"},
      "mark": {"type": "point", "opacity": 0},
      "encoding": {
        "x": {"field": "x", "type": "quantitative", "scale": {"type": "log", "domain": [1, 100000000], "nice": false},
          "axis": {"orient": "bottom", "values": [1, 10, 100, 1000, 10000, 100000, 1000000, 10000000, 100000000], "tickSize": -9, "tickWidth": 1, "labels": false, "grid": false, "title": null}},
        "y": {"field": "y", "type": "quantitative", "scale": {"type": "log", "domain": [8.97e-13, 0.149], "nice": false},
          "axis": {"orient": "left", "values": [1e-12, 1e-11, 1e-10, 1e-9, 1e-8, 1e-7, 1e-6, 1e-5, 1e-4, 1e-3, 1e-2, 1e-1], "tickSize": -9, "tickWidth": 1, "labels": false, "grid": false, "title": null}}
      }
    },
    {
      "data": {"name": "green"},
      "mark": {"type": "point", "opacity": 0},
      "encoding": {
        "x": {"field": "x", "type": "quantitative", "scale": {"type": "log", "domain": [1, 100000000], "nice": false},
          "axis": {"orient": "top", "values": [1, 10, 100, 1000, 10000, 100000, 1000000, 10000000, 100000000], "tickSize": -9, "tickWidth": 1, "labels": false, "grid": false, "title": null}},
        "y": {"field": "y", "type": "quantitative", "scale": {"type": "log", "domain": [8.97e-13, 0.149], "nice": false},
          "axis": {"orient": "right", "values": [1e-12, 1e-11, 1e-10, 1e-9, 1e-8, 1e-7, 1e-6, 1e-5, 1e-4, 1e-3, 1e-2, 1e-1], "tickSize": -9, "tickWidth": 1, "labels": false, "grid": false, "title": null}}
      }
    },
    {
      "data": {"name": "green"},
      "mark": {"type": "point", "opacity": 0},
      "encoding": {
        "x": {"field": "x", "type": "quantitative", "scale": {"type": "log", "domain": [1, 100000000], "nice": false},
          "axis": {"orient": "bottom", "values": [2,3,4,5,6,7,8,9,20,30,40,50,60,70,80,90,200,300,400,500,600,700,800,900,2000,3000,4000,5000,6000,7000,8000,9000,20000,30000,40000,50000,60000,70000,80000,90000,200000,300000,400000,500000,600000,700000,800000,900000,2000000,3000000,4000000,5000000,6000000,7000000,8000000,9000000,20000000,30000000,40000000,50000000,60000000,70000000,80000000,90000000], "tickSize": -5, "tickWidth": 1, "labels": false, "grid": false, "title": null}},
        "y": {"field": "y", "type": "quantitative", "scale": {"type": "log", "domain": [8.97e-13, 0.149], "nice": false}, "axis": null}
      }
    },
    {
      "data": {"name": "green"},
      "mark": {"type": "point", "opacity": 0},
      "encoding": {
        "x": {"field": "x", "type": "quantitative", "scale": {"type": "log", "domain": [1, 100000000], "nice": false},
          "axis": {"orient": "top", "values": [2,3,4,5,6,7,8,9,20,30,40,50,60,70,80,90,200,300,400,500,600,700,800,900,2000,3000,4000,5000,6000,7000,8000,9000,20000,30000,40000,50000,60000,70000,80000,90000,200000,300000,400000,500000,600000,700000,800000,900000,2000000,3000000,4000000,5000000,6000000,7000000,8000000,9000000,20000000,30000000,40000000,50000000,60000000,70000000,80000000,90000000], "tickSize": -5, "tickWidth": 1, "labels": false, "grid": false, "title": null}},
        "y": {"field": "y", "type": "quantitative", "scale": {"type": "log", "domain": [8.97e-13, 0.149], "nice": false}, "axis": null}
      }
    }
  ]
}
